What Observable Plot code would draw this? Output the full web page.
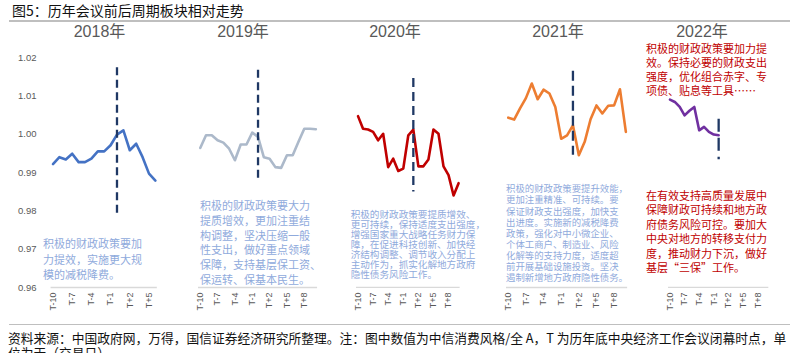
<!DOCTYPE html>
<html>
<head>
<meta charset="utf-8">
<script src="https://cdn.jsdelivr.net/npm/d3@7"></script>
<script src="https://cdn.jsdelivr.net/npm/@observablehq/plot@0.6"></script>
<style>
  html, body { margin: 0; padding: 0; background: #fff; }
  body { width: 795px; height: 353px; overflow: hidden; position: relative;
         font-family: "Liberation Sans", "Noto Sans CJK SC", sans-serif; }
  .abs { position: absolute; white-space: pre; }
  .rule { position: absolute; height: 1.6px; background: #bfbfbf; }
  .ptitle { position: absolute; font-size: 16px; line-height: 16px; color: #595959; transform: translateX(-50%); white-space: nowrap; }
  .note { position: absolute; white-space: pre; font-family: "Noto Sans CJK SC", sans-serif; }
</style>
</head>
<body>
<div id="root"></div>
<script>
// ---------- data ----------
const chartTitle = "图5：历年会议前后周期板块相对走势";
const caption = "资料来源：中国政府网，万得，国信证券经济研究所整理。注：图中数值为中信消费风格/全 A，T 为历年底中央经济工作会议闭幕时点，单\n位为天（交易日）";
const panelTitles = ["2018年", "2019年", "2020年", "2021年", "2022年"];

const days2018 = [-10, -9, -8, -7, -6, -5, -4, -3, -2, -1, 0, 1, 2, 3, 4, 5, 6];
const ratio2018 = [0.9922, 0.9940, 0.9934, 0.9949, 0.9927, 0.9927, 0.9936, 0.9955, 0.9955, 0.9971, 0.9999, 1.0010, 0.9958, 0.9975, 0.9940, 0.9897, 0.9879];

const days2019 = [-10, -9, -8, -7, -6, -5, -4, -3, -2, -1, 0, 1, 2, 3, 4, 5, 6, 7, 8, 9, 10];
const ratio2019 = [0.9964, 0.9997, 0.9997, 0.9984, 0.9978, 0.9962, 0.9932, 0.9973, 0.9973, 1.0004, 0.9993, 0.9940, 0.9936, 0.9914, 0.9912, 0.9945, 0.9945, 0.9980, 1.0014, 1.0014, 1.0013];

const days2020 = [-10, -9, -8, -7, -6, -5, -4, -3, -2, -1, 0, 1, 2, 3, 4, 5, 6, 7, 8, 9, 10];
const ratio2020 = [1.0047, 1.0014, 1.0012, 1.0006, 0.9984, 1.0001, 0.9914, 0.9936, 0.9904, 0.9910, 0.9997, 1.0012, 0.9916, 0.9916, 0.9934, 1.0012, 1.0001, 0.9916, 0.9893, 0.9840, 0.9872];

const days2021 = [-10, -9, -8, -7, -6, -5, -4, -3, -2, -1, 0, 1, 2, 3, 4, 5, 6, 7, 8, 9, 10];
const ratio2021 = [1.0043, 1.0038, 1.0067, 1.0094, 1.0132, 1.0091, 1.0116, 1.0106, 1.0071, 0.9988, 0.9997, 1.0023, 0.9945, 0.9980, 1.0039, 1.0075, 1.0054, 1.0074, 1.0075, 1.0117, 1.0006];

const days2022 = [-10, -9, -8, -7, -6, -5, -4, -3, -2, -1, 0];
const ratio2022 = [1.0090, 1.0084, 1.0071, 1.0049, 1.0061, 1.0071, 1.0010, 1.0019, 1.0006, 0.9999, 0.9997];

const axisLastDay = [6, 10, 10, 10, 10];
const meetingDay = [0, 0, 1, 1, 0];
const meetingTop = [1.0173, 1.0167, 1.0145, 1.0164, 1.0039];
const meetingBottom = [0.9784, 0.9875, 0.9849, 0.9945, 0.9933];

const yTicks = [0.96, 0.97, 0.98, 0.99, 1.00, 1.01, 1.02];
const yTickLabels = ["0.96", "0.97", "0.98", "0.99", "1.00", "1.01", "1.02"];
const tickDays = [-10, -7, -4, -1, 2, 5, 8];
const tickLabels = ["T-10", "T-7", "T-4", "T-1", "T+2", "T+5", "T+8"];

const notes2018 = ["积极的财政政策要加", "力提效，实施更大规", "模的减税降费。"];
const notes2019 = ["积极的财政政策要大力", "提质增效，更加注重结", "构调整，坚决压缩一般", "性支出，做好重点领域", "保障，支持基层保工资、", "保运转、保基本民生。"];
const notes2020 = ["积极的财政政策要提质增效、", "更可持续，保持适度支出强度，", "增强国家重大战略任务财力保", "障，在促进科技创新、加快经", "济结构调整、调节收入分配上", "主动作为，抓实化解地方政府", "隐性债务风险工作。"];
const notes2021 = ["积极的财政政策要提升效能，", "更加注重精准、可持续。要", "保证财政支出强度，加快支", "出进度。实施新的减税降费", "政策，强化对中小微企业、", "个体工商户、制造业、风险", "化解等的支持力度，适度超", "前开展基础设施投资。坚决", "遏制新增地方政府隐性债务。"];
const notes2022a = ["积极的财政政策要加力提", "效。保持必要的财政支出", "强度，优化组合赤字、专", "项债、贴息等工具……"];
const notes2022b = ["在有效支持高质量发展中", "保障财政可持续和地方政", "府债务风险可控。要加大", "中央对地方的转移支付力", "度，推动财力下沉，做好", "基层“三保”工作。"];

// ---------- layout / style (not data) ----------
const allDays = [days2018, days2019, days2020, days2021, days2022];
const allRatios = [ratio2018, ratio2019, ratio2020, ratio2021, ratio2022];
const colors = ["#4472c4", "#acb9ca", "#c00000", "#ed7d31", "#7030a0"];
const firstX = [52.5, 199.3, 357.7, 507.3, 669.5];   // page x of T-10
const stepPx = [6.4, 5.78, 5.03, 5.88, 4.87];
const dashes = ["8,4.5", "8,4.5", "9,5", "10,5", "13,6"];
const titleCx = [99.5, 243, 395, 558, 702];
const PAD = 0.3;
const TOP = 22;

const root = document.getElementById("root");
function addDiv(cls, text, css) {
  const d = document.createElement("div");
  d.className = cls;
  d.textContent = text;
  Object.assign(d.style, css);
  root.appendChild(d);
  return d;
}

// chart title + rules + caption
addDiv("abs", chartTitle, {left: "12px", top: "2px", fontSize: "14px", lineHeight: "17px", color: "#111", fontFamily: '"Noto Sans CJK SC", sans-serif'});
addDiv("rule", "", {left: "9px", width: "781px", top: "20px"});
addDiv("rule", "", {left: "9px", width: "781px", top: "323.5px"});
addDiv("abs", caption, {left: "8px", top: "329.5px", fontSize: "12.75px", lineHeight: "15.5px", color: "#111", fontFamily: '"Noto Sans CJK SC", sans-serif'});

for (let i = 0; i < 5; i++) {
  const days = allDays[i], vals = allRatios[i];
  const data = days.map((t, k) => ({t, v: vals[k]}));
  const x0 = -10 - PAD, x1 = axisLastDay[i] + PAD;
  const frameLeft = firstX[i] - PAD * stepPx[i];
  const frameW = (x1 - x0) * stepPx[i];
  const ml = i === 0 ? frameLeft : 6;
  const mr = 6;
  const ticks = tickDays.filter(d => d >= x0 && d <= x1);
  const plot = Plot.plot({
    width: ml + frameW + mr,
    height: 300,
    marginLeft: ml, marginRight: mr, marginTop: 35, marginBottom: 35,
    x: {type: "linear", domain: [x0, x1], axis: null},
    y: {domain: [0.96, 1.02], axis: null},
    style: {fontFamily: '"Liberation Sans", "Noto Sans CJK SC", sans-serif', background: "transparent", overflow: "visible"},
    marks: [
      Plot.ruleY([0.96], {stroke: "#d9d9d9", strokeWidth: 1.3}),
      i === 0 ? Plot.axisY({ticks: yTicks, tickFormat: d => yTickLabels[yTicks.indexOf(d)], tickSize: 0, tickPadding: 14.6, fontSize: 9.5, color: "#595959", label: null}) : null,
      Plot.axisX({ticks, tickFormat: d => tickLabels[tickDays.indexOf(d)], tickSize: 0, tickPadding: 5, tickRotate: -90, fontSize: 9, color: "#595959", label: null}),
      Plot.line(data, {x: "t", y: "v", stroke: colors[i], strokeWidth: 2.6, strokeLinejoin: "round", strokeLinecap: "round"}),
      Plot.ruleX([meetingDay[i]], {y1: meetingTop[i], y2: meetingBottom[i], stroke: "#1f3864", strokeWidth: 2.3, strokeDasharray: dashes[i]})
    ]
  });
  plot.style.position = "absolute";
  plot.style.left = (frameLeft - ml) + "px";
  plot.style.top = TOP + "px";
  root.appendChild(plot);

  addDiv("ptitle", panelTitles[i], {left: titleCx[i] + "px", top: "24px"});
}

// annotations
const blue = "#8faadc", red = "#c00000";
addDiv("note", notes2018.join("\n"), {left: "43px", top: "236px", fontSize: "11px", lineHeight: "15.5px", color: blue});
addDiv("note", notes2019.join("\n"), {left: "200px", top: "198.3px", fontSize: "11px", lineHeight: "14.7px", color: blue});
addDiv("note", notes2020.join("\n"), {left: "350.7px", top: "209px", fontSize: "9.6px", lineHeight: "10px", color: blue});
addDiv("note", notes2021.join("\n"), {left: "506px", top: "183.4px", fontSize: "9.4px", lineHeight: "11.1px", color: blue});
addDiv("note", notes2022a.join("\n"), {left: "646px", top: "41.2px", fontSize: "11px", lineHeight: "14.1px", color: red});
addDiv("note", notes2022b.join("\n"), {left: "646px", top: "187.8px", fontSize: "11px", lineHeight: "14.5px", color: red});
</script>
</body>
</html>
